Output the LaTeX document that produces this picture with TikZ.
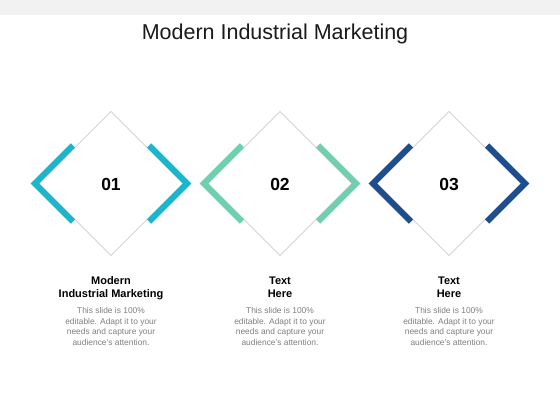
\documentclass[tikz,border=0pt]{standalone}
\usepackage{fontspec}
\setmainfont{Liberation Sans}
\usetikzlibrary{calc}
\definecolor{cyanc}{HTML}{1BB5CC}
\definecolor{mintc}{HTML}{6FCFAE}
\definecolor{navyc}{HTML}{1F4E8E}
\definecolor{thinc}{HTML}{BFBFBF}
\definecolor{bandc}{HTML}{F2F2F2}
\definecolor{bodyc}{HTML}{7F7F7F}
\definecolor{titlec}{HTML}{1A1A1A}
\tikzset{
  thinline/.style={draw=thinc, line width=0.6pt},
  bracket/.style={line width=6pt, line join=miter, line cap=butt},
  numtext/.style={font=\bfseries\fontsize{17.5}{20}\selectfont, text=black, anchor=base, inner sep=0pt},
  headtext/.style={font=\bfseries\fontsize{11}{13}\selectfont, text=black, anchor=base, align=center, inner sep=0pt},
  bodytext/.style={font=\fontsize{8.4}{10.5}\selectfont, text=bodyc, anchor=base, align=center, inner sep=0pt},
}
\begin{document}
\begin{tikzpicture}[x=1pt,y=-1pt]
\useasboundingbox (0,0) rectangle (560,420);
\fill[white] (0,0) rectangle (560,420);
\fill[bandc] (0,0) rectangle (560,14.7);
\node[font=\fontsize{21.5}{24}\selectfont, text=titlec, anchor=base, inner sep=0pt] (title) at (275,39.5) {Modern Industrial Marketing};
\foreach \i/\cx/\col/\num in {1/111/cyanc/01, 2/280/mintc/02, 3/449/navyc/03}{
  \coordinate (c\i) at (\cx,183.5);
  \draw[thinline] ([shift={(0,-72)}]c\i) -- ([shift={(72,0)}]c\i) -- ([shift={(0,72)}]c\i) -- ([shift={(-72,0)}]c\i) -- cycle;
  \draw[bracket, draw=\col] ([shift={(-38.1,-38.1)}]c\i) -- ([shift={(-76.24,0)}]c\i) -- ([shift={(-38.1,38.1)}]c\i);
  \draw[bracket, draw=\col] ([shift={(38.1,-38.1)}]c\i) -- ([shift={(76.24,0)}]c\i) -- ([shift={(38.1,38.1)}]c\i);
  \node[numtext] (n\i) at (\cx,190) {\num};
}
\node[headtext] (h1) at (111,297.5) {Modern\\Industrial Marketing};
\node[headtext] (h2) at (280,297.5) {Text\\Here};
\node[headtext] (h3) at (449,297.5) {Text\\Here};
\foreach \i/\cx in {1/111,2/280,3/449}{
  \node[bodytext] (b\i) at (\cx,345) {This slide is 100\%\\editable. Adapt it to your\\needs and capture your\\audience's attention.};
}
\end{tikzpicture}
\end{document}
